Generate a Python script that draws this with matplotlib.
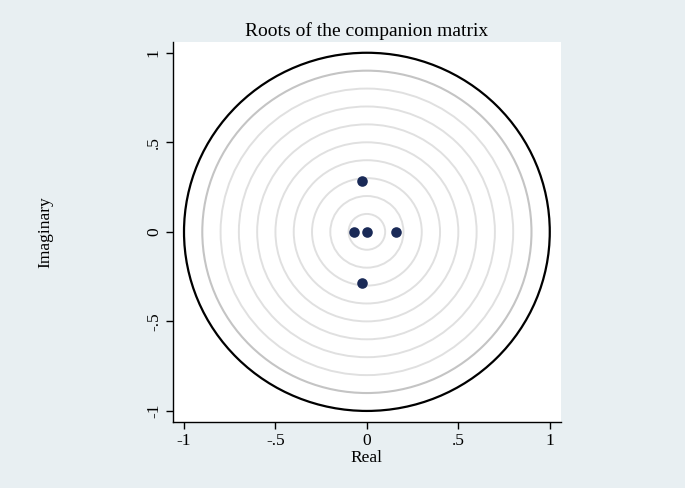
import matplotlib
matplotlib.use("Agg")
import matplotlib.pyplot as plt
from matplotlib.patches import Circle

# Eigenvalues
real_parts = [-0.027, -0.027, -0.071, 0.0, 0.16]
imag_parts = [0.285, -0.285, 0.0, 0.0, 0.0]

grid_radii = [0.1, 0.2, 0.3, 0.4, 0.5, 0.6, 0.7, 0.8]
ticks = [-1, -0.5, 0, 0.5, 1]
tick_labels = ["-1", "-.5", "0", ".5", "1"]

bg = "#e8eff2"
marker_color = "#1a2a57"

plt.rcParams["font.family"] = ["Liberation Serif", "DejaVu Serif"]

fig = plt.figure(figsize=(6.85, 4.88), dpi=100, facecolor=bg)
ax = fig.add_axes([0.2526, 0.1359, 0.566, 0.778])
ax.set_facecolor("white")

# reference circles
for r in grid_radii:
    ax.add_patch(Circle((0, 0), r, fill=False, edgecolor="#e0e0e0", lw=1.4, zorder=1))
ax.add_patch(Circle((0, 0), 0.9, fill=False, edgecolor="#c4c4c4", lw=1.5, zorder=2))
ax.add_patch(Circle((0, 0), 1.0, fill=False, edgecolor="black", lw=1.6, zorder=3))

ax.scatter(real_parts, imag_parts, s=58, color=marker_color, zorder=4, linewidths=0)

ax.set_xlim(-1.06, 1.06)
ax.set_ylim(-1.06, 1.06)
ax.set_xticks(ticks)
ax.set_xticklabels(tick_labels)
ax.set_yticks(ticks)
ax.set_yticklabels(tick_labels, rotation=90, va="center")
ax.tick_params(direction="out", length=5, width=1, labelsize=12.5, pad=3)

for side in ["top", "right"]:
    ax.spines[side].set_visible(False)
for side in ["left", "bottom"]:
    ax.spines[side].set_linewidth(1)

ax.set_title("Roots of the companion matrix", fontsize=14, pad=4)
ax.set_xlabel("Real", fontsize=12.5, labelpad=1)
ax.set_ylabel("Imaginary", fontsize=12.5)
ax.yaxis.set_label_coords(-0.31, 0.5)

fig.savefig("out.png", dpi=100, facecolor=bg)
